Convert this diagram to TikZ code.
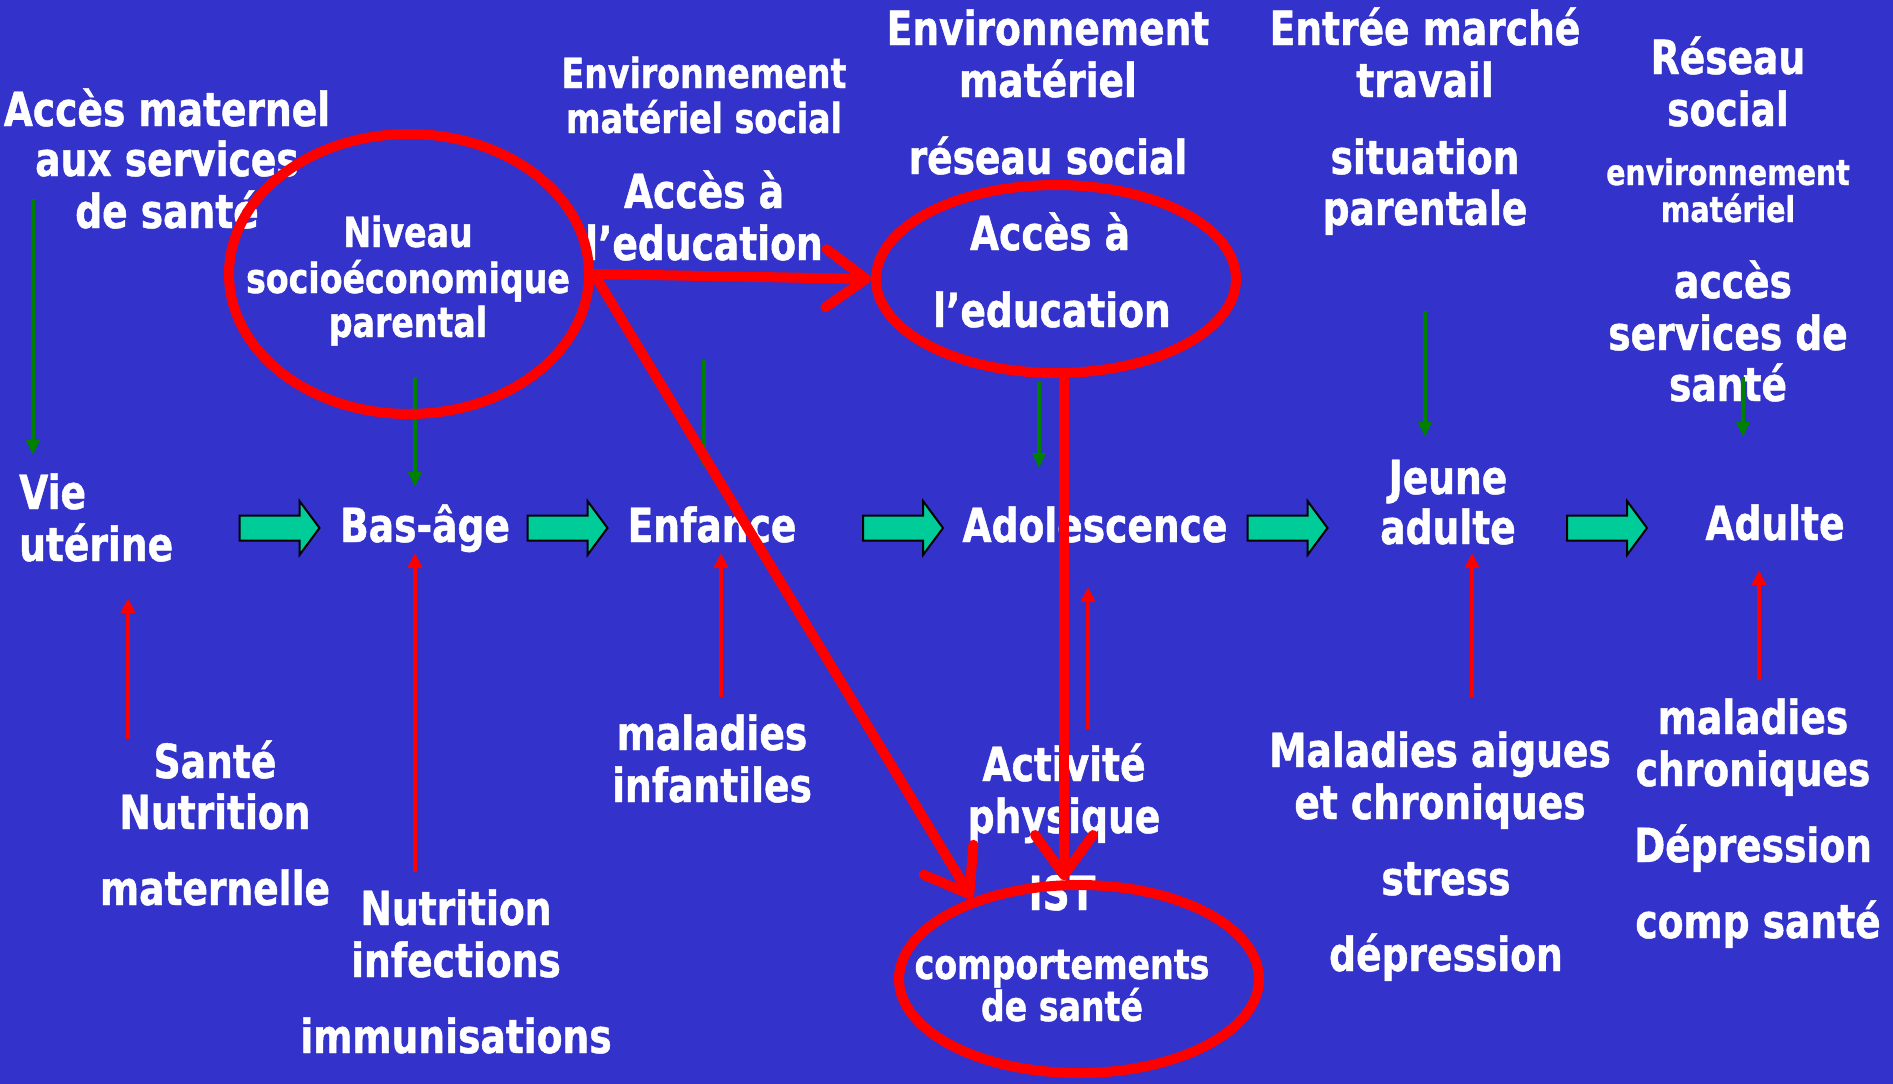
\documentclass[tikz,border=0pt]{standalone}
\usepackage{fontspec}
\newfontfamily\tf{DejaVu Sans Bold}[FakeStretch=0.8,FakeBold=1]
\usetikzlibrary{arrows.meta,shapes.geometric}
\definecolor{bgblue}{RGB}{51,51,204}
\definecolor{blkfill}{RGB}{0,204,153}
\definecolor{grn}{RGB}{0,128,0}
\begin{document}
\begin{tikzpicture}[x=1pt,y=-1pt,
 lg/.style={text=white,inner sep=0pt,anchor=base,font=\tf\fontsize{47}{52}\selectfont},
 md/.style={lg,font=\tf\fontsize{41.5}{46}\selectfont},
 sm/.style={lg,font=\tf\fontsize{35.5}{40}\selectfont},
 ell/.style={ellipse,draw=red,line width=10pt,inner sep=0pt,minimum width=360pt},
 redthick/.style={red,line width=10pt,line cap=round,line join=round,-{Straight Barb[length=40pt,width=58pt,round]}},
 redthin/.style={red,line width=4pt,-{Triangle[length=15pt,width=14pt]}},
 grnarr/.style={grn,line width=3.5pt,-{Triangle[length=15pt,width=13pt]}},
 blockarr/.style={fill=blkfill,draw=black,line width=2pt,line join=miter}]
\fill[bgblue] (0,0) rectangle (1893,1084);
\useasboundingbox (0,0) rectangle (1893,1084);
% top texts
\node[lg] (a1) at (167,126) {Accès maternel};
\node[lg] (a2) at (167,176) {aux services};
\node[lg] (a3) at (167,228) {de santé};
\node[md] (n1) at (408,247) {Niveau};
\node[md] (n2) at (408,293) {socioéconomique};
\node[md] (n3) at (408,337) {parental};
\node[md] (b1) at (704,88) {Environnement};
\node[md] (b2) at (704,133) {matériel social};
\node[lg] (b3) at (704,208) {Accès à};
\node[lg] (b4) at (704,260) {l’education};
\node[lg] (c1) at (1048,45) {Environnement};
\node[lg] (c2) at (1048,97) {matériel};
\node[lg] (c3) at (1048,174) {réseau social};
\node[lg] (c4) at (1050,250) {Accès à};
\node[lg] (c5) at (1052,327) {l’education};
\node[lg] (d1) at (1425,45) {Entrée marché};
\node[lg] (d2) at (1425,97) {travail};
\node[lg] (d3) at (1425,174) {situation};
\node[lg] (d4) at (1425,225) {parentale};
\node[lg] (e1t) at (1728,74) {Réseau};
\node[lg] (e2t) at (1728,126) {social};
\node[sm] (e3t) at (1728,185) {environnement};
\node[sm] (e4t) at (1728,222) {matériel};
\node[lg] (e5t) at (1733,298) {accès};
\node[lg] (e6t) at (1728,350) {services de};
\node[lg] (e7t) at (1728,401) {santé};
% stages
\node[lg,anchor=base west] (s0a) at (19,509) {Vie};
\node[lg,anchor=base west] (s0b) at (19,561) {utérine};
\node[lg] (s1) at (425,542) {Bas-âge};
\node[lg] (s2) at (712,542) {Enfance};
\node[lg] (s3) at (1095,542) {Adolescence};
\node[lg] (s4a) at (1448,494) {Jeune};
\node[lg] (s4b) at (1448,544) {adulte};
\node[lg] (s5) at (1775,540) {Adulte};
% bottom texts
\node[lg] (f1) at (215,778) {Santé};
\node[lg] (f2) at (215,829) {Nutrition};
\node[lg] (f3) at (215,905) {maternelle};
\node[lg] (g1) at (456,925) {Nutrition};
\node[lg] (g2) at (456,977) {infections};
\node[lg] (g3) at (456,1053) {immunisations};
\node[lg] (h1) at (712,750) {maladies};
\node[lg] (h2) at (712,802) {infantiles};
\node[lg] (i1) at (1064,781) {Activité};
\node[lg] (i2) at (1064,833) {physique};
\node[lg] (i3) at (1062,910) {IST};
\node[md] (i4) at (1062,979) {comportements};
\node[md] (i5) at (1062,1021) {de santé};
\node[lg] (j1) at (1440,767) {Maladies aigues};
\node[lg] (j2) at (1440,819) {et chroniques};
\node[lg] (j3) at (1446,895) {stress};
\node[lg] (j4) at (1446,971) {dépression};
\node[lg] (k1) at (1753,734) {maladies};
\node[lg] (k2) at (1753,786) {chroniques};
\node[lg] (k3) at (1753,862) {Dépression};
\node[lg] (k4) at (1758,938) {comp santé};
% green arrows
\coordinate (ga1) at (33,199); \coordinate (ga2) at (33,455);
\coordinate (gb1) at (415,377); \coordinate (gb2) at (415,487);
\coordinate (gc1) at (704,360); \coordinate (gc2) at (704,468);
\coordinate (gd1) at (1039,382); \coordinate (gd2) at (1039,468);
\coordinate (ge1) at (1425,311); \coordinate (ge2) at (1425,437);
\coordinate (gf1) at (1743,377); \coordinate (gf2) at (1743,437);
\draw[grnarr] (ga1) -- (ga2);
\draw[grnarr] (gb1) -- (gb2);
\draw[grnarr] (gc1) -- (gc2);
\draw[grnarr] (gd1) -- (gd2);
\draw[grnarr] (ge1) -- (ge2);
\draw[grnarr] (gf1) -- (gf2);
% red thin arrows
\coordinate (ra1) at (128,739); \coordinate (ra2) at (128,598);
\coordinate (rb1) at (415,872); \coordinate (rb2) at (415,553);
\coordinate (rc1) at (721,697); \coordinate (rc2) at (721,553);
\coordinate (rd1) at (1088,729); \coordinate (rd2) at (1088,587);
\coordinate (re1) at (1472,697); \coordinate (re2) at (1472,553);
\coordinate (rf1) at (1759,680); \coordinate (rf2) at (1759,570);
\draw[redthin] (ra1) -- (ra2);
\draw[redthin] (rb1) -- (rb2);
\draw[redthin] (rc1) -- (rc2);
\draw[redthin] (rd1) -- (rd2);
\draw[redthin] (re1) -- (re2);
\draw[redthin] (rf1) -- (rf2);
% block arrows
\foreach \cx in {279.5,567.5,903,1287.5,1607}{
  \draw[blockarr] ({\cx-40},515.5) -- ({\cx+20},515.5) -- ({\cx+20},501) -- ({\cx+40},528)
    -- ({\cx+20},555) -- ({\cx+20},540.5) -- ({\cx-40},540.5) -- cycle;
}
% ellipses
\node[ell,minimum height=280pt] (E1) at (409,274) {};
\node[ell,minimum height=188pt] (E2) at (1056,279) {};
\node[ell,minimum height=188pt] (E3) at (1079,979) {};
% thick red connectors
\coordinate (vx) at (1064,0);
\draw[redthick] (E1.east) -- (E2.west);
\draw[redthick] (E1.east) -- (E3.143);
\draw[redthick] (E2.south -| vx) -- (E3.north -| vx);
\end{tikzpicture}
\end{document}
